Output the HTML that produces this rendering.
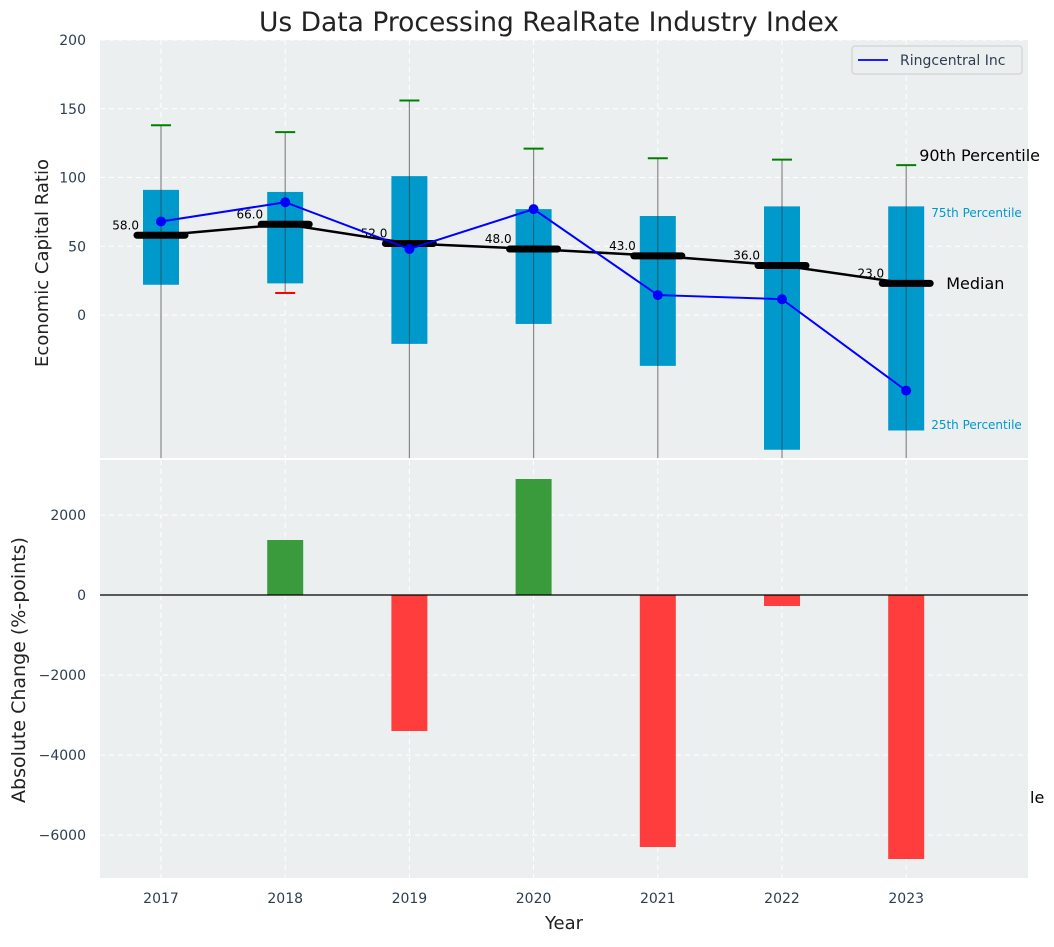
<!DOCTYPE html>
<html><head><meta charset="utf-8"><style>
body{margin:0;background:#fff;font-family:"Liberation Sans","DejaVu Sans",sans-serif}
svg text{font-family:"DejaVu Sans","Liberation Sans",sans-serif}
</style></head><body>
<svg id="c" width="1054" height="942" xmlns="http://www.w3.org/2000/svg"></svg>
<script>
const years=[2017,2018,2019,2020,2021,2022,2023];
const p90=[138,133,156,121,114,113,109];
const p75=[91,89.5,101,77,72,79,79];
const p25=[22,23,-21,-6.5,-37,-98,-84];
const p10=[-200,16,-200,-200,-200,-200,-200];
const medians=[58,66,52,48,43,36,23];
const ringcentral=[68,82,48,77,14.5,11.5,-55];
const changes=[0,1375,-3400,2900,-6300,-275,-6600];
const topTicks=[0,50,100,150,200];
const botTicks=[-6000,-4000,-2000,0,2000];

const svg=document.getElementById('c');const NS='http://www.w3.org/2000/svg';
function el(t,a,txt){const e=document.createElementNS(NS,t);for(const k in a)e.setAttribute(k,a[k]);if(txt!==undefined)e.textContent=txt;svg.appendChild(e);return e;}
const L=100,R=1028,T1=40,B1=458,T2=460,B2=878;
const xs=i=>161+i*124.2;
const y1=v=>Math.max(T1,Math.min(B1,315-1.375*v));
const y2=v=>595-v*0.04;
let e;
e=el('rect',{x:L,y:T1,width:R-L,height:B1-T1,fill:'#ebeff0'});

e=el('rect',{x:L,y:T2,width:R-L,height:B2-T2,fill:'#ebeff0'});

years.forEach((y,i)=>{el('line',{x1:xs(i),x2:xs(i),y1:T1,y2:B1,stroke:'#fff','stroke-dasharray':'5,4'});el('line',{x1:xs(i),x2:xs(i),y1:T2,y2:B2,stroke:'#fff','stroke-dasharray':'5,4'});});
topTicks.forEach(t=>{el('line',{x1:L,x2:R,y1:y1(t),y2:y1(t),stroke:'#fff','stroke-dasharray':'5,4'});
 e=el('text',{x:86,y:y1(t)+5,'text-anchor':'end','font-size':14,fill:'#2e3e50'},t);
 });
botTicks.forEach(t=>{el('line',{x1:L,x2:R,y1:y2(t),y2:y2(t),stroke:'#fff','stroke-dasharray':'5,4'});
 e=el('text',{x:86,y:y2(t)+5,'text-anchor':'end','font-size':14,fill:'#2e3e50'},t<0?'−'+(-t):t);
 });
years.forEach((y,i)=>{const x=xs(i);
 e=el('line',{x1:x,x2:x,y1:y1(p90[i]),y2:y1(p10[i]),stroke:'#888','stroke-width':1.2});
 
 e=el('rect',{x:x-18,y:y1(p75[i]),width:36,height:y1(p25[i])-y1(p75[i]),fill:'#0099cc'});
 
 el('line',{x1:x,x2:x,y1:y1(p75[i]),y2:y1(p25[i]),stroke:'#333','stroke-width':1,opacity:0.6});
 e=el('line',{x1:x-10,x2:x+10,y1:y1(p90[i]),y2:y1(p90[i]),stroke:'green','stroke-width':2});
 
 if(p10[i]>-104){e=el('line',{x1:x-10,x2:x+10,y1:y1(p10[i]),y2:y1(p10[i]),stroke:'red','stroke-width':2});
 }
});
e=el('polyline',{points:years.map((y,i)=>xs(i)+','+y1(medians[i])).join(' '),fill:'none',stroke:'#000','stroke-width':2.5});

years.forEach((y,i)=>{const x=xs(i),yy=y1(medians[i]);
 e=el('line',{x1:x-24,x2:x+24,y1:yy,y2:yy,stroke:'#000','stroke-width':7,'stroke-linecap':'round'});
 
 e=el('text',{x:x-22,y:yy-6,'text-anchor':'end','font-size':12,fill:'#000'},medians[i].toFixed(1));
 });
e=el('polyline',{points:years.map((y,i)=>xs(i)+','+y1(ringcentral[i])).join(' '),fill:'none',stroke:'blue','stroke-width':2});

years.forEach((y,i)=>{e=el('circle',{cx:xs(i),cy:y1(ringcentral[i]),r:5,fill:'blue'});
 });
const lx=xs(6);
e=el('text',{x:lx+13,y:161,'font-size':16,fill:'#000'},'90th Percentile');
e=el('text',{x:lx+25,y:217,'font-size':12,fill:'#0099cc'},'75th Percentile');
e=el('text',{x:lx+25,y:429,'font-size':12,fill:'#0099cc'},'25th Percentile');
e=el('text',{x:lx+40,y:289,'font-size':16,fill:'#000'},'Median');
e=el('rect',{x:852,y:46,width:170,height:28,fill:'#ebeff0',stroke:'#ccc',rx:3});
el('line',{x1:858,x2:888,y1:60,y2:60,stroke:'blue','stroke-width':1.8});
e=el('text',{x:900,y:65,'font-size':14,fill:'#2e3e50'},'Ringcentral Inc');
changes.forEach((v,i)=>{const a=y2(0),b=y2(v);
 e=el('rect',{x:xs(i)-18,y:Math.min(a,b),width:36,height:Math.abs(b-a),fill:v>=0?'#3a9b3d':'#ff3d3d'});
 });
el('line',{x1:L,x2:R,y1:y2(0),y2:y2(0),stroke:'#000','stroke-width':1.2});
e=el('text',{x:1030,y:803,'font-size':16,fill:'#000'},'le');
years.forEach((y,i)=>{e=el('text',{x:xs(i),y:903,'text-anchor':'middle','font-size':14,fill:'#2e3e50'},y);
 });
e=el('text',{x:564,y:929,'text-anchor':'middle','font-size':18,fill:'#222'},'Year');
e=el('text',{x:0,y:0,'text-anchor':'middle','font-size':18,fill:'#222',transform:'translate(48,263) rotate(-90)'},'Economic Capital Ratio');
e=el('text',{x:0,y:0,'text-anchor':'middle','font-size':19,fill:'#222',transform:'translate(25,670) rotate(-90)'},'Absolute Change (%-points)');
e=el('text',{x:549,y:31,'text-anchor':'middle','font-size':26.5,fill:'#222'},'Us Data Processing RealRate Industry Index');
</script>
</body></html>
